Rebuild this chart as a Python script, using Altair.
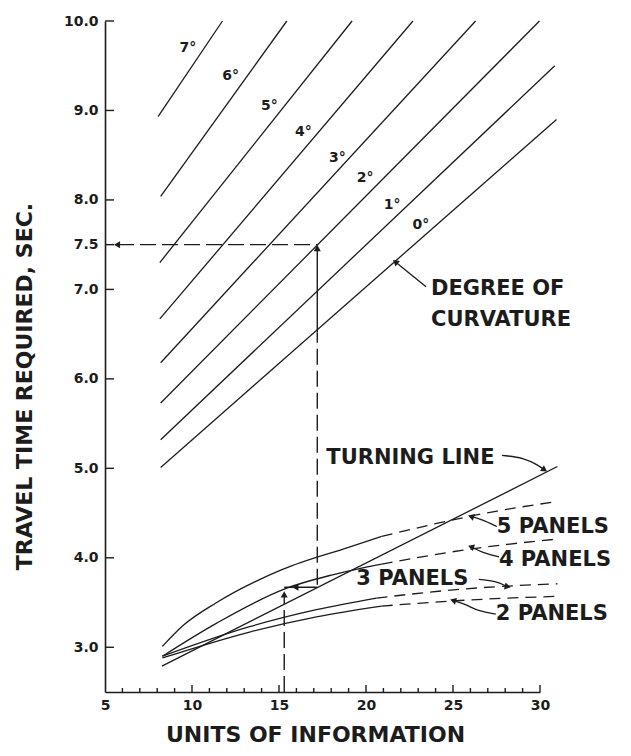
import altair as alt
import pandas as pd

# ---------------- data ----------------
# Degree-of-curvature lines (straight): start and end points
DEG_NAMES = ["0°", "1°", "2°", "3°", "4°", "5°", "6°", "7°"]
DEG_X0 = [8.2, 8.2, 8.2, 8.2, 8.15, 8.15, 8.2, 8.05]
DEG_Y0 = [5.01, 5.32, 5.73, 6.18, 6.67, 7.30, 8.04, 8.93]
DEG_X1 = [30.95, 30.85, 29.97, 26.3, 22.7, 19.2, 15.45, 11.75]
DEG_Y1 = [8.90, 9.50, 10.0, 10.0, 10.0, 10.0, 10.0, 10.0]
DEG_LABEL_X = [23.16, 21.5, 19.95, 18.35, 16.40, 14.45, 12.22, 9.76]
DEG_LABEL_Y = [7.72, 7.94, 8.24, 8.47, 8.76, 9.05, 9.38, 9.70]

# Panel curves: solid part and dashed (extrapolated) part
P5_SOLID_X = [8.3, 9.47, 11.42, 15.2, 19.04, 20.9]
P5_SOLID_Y = [3.01, 3.24, 3.50, 3.87, 4.12, 4.24]
P5_DASH_X = [20.9, 27.46, 31.0]
P5_DASH_Y = [4.24, 4.52, 4.63]

P4_SOLID_X = [8.3, 11.42, 15.3, 18.07, 20.9]
P4_SOLID_Y = [2.90, 3.27, 3.65, 3.81, 3.93]
P4_DASH_X = [20.9, 26.09, 31.0]
P4_DASH_Y = [3.93, 4.10, 4.21]

P3_SOLID_X = [8.3, 13.31, 17.15, 20.6]
P3_SOLID_Y = [2.90, 3.23, 3.42, 3.55]
P3_DASH_X = [20.6, 25.52, 31.0]
P3_DASH_Y = [3.55, 3.65, 3.71]

P2_SOLID_X = [8.3, 13.31, 17.15, 20.9]
P2_SOLID_Y = [2.88, 3.17, 3.34, 3.46]
P2_DASH_X = [20.9, 25.17, 31.0]
P2_DASH_Y = [3.46, 3.52, 3.57]

TURN_X = [8.27, 31.0]
TURN_Y = [2.79, 5.02]

# Worked example guide lines
GUIDE_H_X = [5.75, 17.2]
GUIDE_H_Y = [7.5, 7.5]
GUIDE_V1_X = [17.2, 17.2]
GUIDE_V1_Y = [3.70, 6.52]
GUIDE_V1S_X = [17.2, 17.2]
GUIDE_V1S_Y = [6.52, 7.45]
GUIDE_V2_X = [15.3, 15.3]
GUIDE_V2_Y = [2.5, 3.58]
CONN_X = [15.3, 17.2]
CONN_Y = [3.67, 3.67]

# Leader lines from annotations
LEAD_DEG_X = [23.45, 21.73]
LEAD_DEG_Y = [7.03, 7.30]
LEAD_TURN_X = [27.81, 29.07, 29.93, 30.21]
LEAD_TURN_Y = [5.145, 5.12, 5.03, 4.99]
LEAD_P5_X = [27.52, 26.66, 26.09]
LEAD_P5_Y = [4.35, 4.43, 4.46]
LEAD_P4_X = [27.64, 26.66, 26.09]
LEAD_P4_Y = [4.01, 4.06, 4.12]
LEAD_P3_X = [26.49, 27.46, 28.09]
LEAD_P3_Y = [3.76, 3.74, 3.68]
LEAD_P2_X = [27.46, 26.49, 25.74, 25.06]
LEAD_P2_Y = [3.37, 3.40, 3.48, 3.52]

# Arrowheads
ARROW_X = [5.75, 17.2, 15.3, 16.0, 21.73, 30.21, 26.09, 26.09, 28.09, 25.06]
ARROW_Y = [7.5, 7.45, 3.58, 3.67, 7.30, 4.99, 4.46, 4.12, 3.68, 3.52]
ARROW_ANGLE = [270, 0, 0, 270, 309, 124, 288, 290, 103, 287]

# Annotation texts
NOTE_TEXT = ["DEGREE OF", "CURVATURE", "TURNING LINE", "5 PANELS", "4 PANELS", "3 PANELS", "2 PANELS"]
NOTE_X = [23.74, 23.74, 17.72, 27.52, 27.64, 19.44, 27.46]
NOTE_Y = [7.00, 6.66, 5.12, 4.34, 3.98, 3.76, 3.37]

# Axis ticks
X_LABELS = [5, 10, 15, 20, 25, 30]
X_MAJOR_TICKS = [10, 15, 20, 25, 30]
X_MINOR_TICKS = [6, 7, 8, 9, 11, 12, 13, 14, 16, 17, 18, 19, 21, 22, 23, 24, 26, 27, 28, 29]
Y_LABELS = [3.0, 4.0, 5.0, 6.0, 7.0, 7.5, 8.0, 9.0, 10.0]

# ---------------- build tables ----------------
def seg_rows(name, xs, ys):
    return [{"id": name, "o": i, "x": x, "y": y} for i, (x, y) in enumerate(zip(xs, ys))]

deg_rows = []
for n, x0, y0, x1, y1 in zip(DEG_NAMES, DEG_X0, DEG_Y0, DEG_X1, DEG_Y1):
    deg_rows += seg_rows(n, [x0, x1], [y0, y1])
deg_df = pd.DataFrame(deg_rows)

solid_df = pd.DataFrame(
    seg_rows("p5", P5_SOLID_X, P5_SOLID_Y) + seg_rows("p4", P4_SOLID_X, P4_SOLID_Y)
    + seg_rows("p3", P3_SOLID_X, P3_SOLID_Y) + seg_rows("p2", P2_SOLID_X, P2_SOLID_Y)
    + seg_rows("turn", TURN_X, TURN_Y)
)
dash_df = pd.DataFrame(
    seg_rows("p5", P5_DASH_X, P5_DASH_Y) + seg_rows("p4", P4_DASH_X, P4_DASH_Y)
    + seg_rows("p3", P3_DASH_X, P3_DASH_Y) + seg_rows("p2", P2_DASH_X, P2_DASH_Y)
)
guide_dash_df = pd.DataFrame(
    seg_rows("h", GUIDE_H_X, GUIDE_H_Y) + seg_rows("v1", GUIDE_V1_X, GUIDE_V1_Y)
    + seg_rows("v2", GUIDE_V2_X, GUIDE_V2_Y)
)
guide_solid_df = pd.DataFrame(
    seg_rows("v1s", GUIDE_V1S_X, GUIDE_V1S_Y) + seg_rows("conn", CONN_X, CONN_Y)
)
lead_df = pd.DataFrame(
    seg_rows("deg", LEAD_DEG_X, LEAD_DEG_Y) + seg_rows("turn", LEAD_TURN_X, LEAD_TURN_Y)
    + seg_rows("p5", LEAD_P5_X, LEAD_P5_Y) + seg_rows("p4", LEAD_P4_X, LEAD_P4_Y)
    + seg_rows("p3", LEAD_P3_X, LEAD_P3_Y) + seg_rows("p2", LEAD_P2_X, LEAD_P2_Y)
)
arrow_df = pd.DataFrame({"x": ARROW_X, "y": ARROW_Y, "a": ARROW_ANGLE})
deglab_df = pd.DataFrame({"x": DEG_LABEL_X, "y": DEG_LABEL_Y, "t": DEG_NAMES})
note_df = pd.DataFrame({"x": NOTE_X, "y": NOTE_Y, "t": NOTE_TEXT})
xtick_df = pd.DataFrame({"x": X_MAJOR_TICKS + X_MINOR_TICKS,
                         "major": [1] * len(X_MAJOR_TICKS) + [0] * len(X_MINOR_TICKS)})
ytick_df = pd.DataFrame({"y": Y_LABELS})

# ---------------- encodings ----------------
INK = "#1c1c1c"
FONT = "DejaVu Sans"
W, H = 435, 671

x_scale = alt.Scale(domain=[5, 30], nice=False, zero=False)
y_scale = alt.Scale(domain=[2.5, 10], nice=False, zero=False)
x_axis = alt.Axis(
    values=X_LABELS, format="d", ticks=False, tickSize=0, grid=False,
    domainColor=INK, domainWidth=1.6, labelColor=INK, labelFont=FONT,
    labelFontSize=14, labelFontWeight="bold", labelPadding=6, labelFlush=False,
    labelOverlap=False,
    title="UNITS OF INFORMATION", titleFont=FONT, titleFontSize=22,
    titleFontWeight="bold", titleColor=INK, titleX=210, titleY=42,
    titleAlign="center", titleBaseline="middle",
)
y_axis = alt.Axis(
    values=Y_LABELS, format=".1f", ticks=False, tickSize=0, grid=False,
    domainColor=INK, domainWidth=1.6, labelColor=INK, labelFont=FONT,
    labelFontSize=14, labelFontWeight="bold", labelPadding=7, labelFlush=False,
    labelOverlap=False,
    title="TRAVEL TIME REQUIRED, SEC.", titleFont=FONT, titleFontSize=22,
    titleFontWeight="bold", titleColor=INK, titleX=-81, titleY=365, titleAngle=270,
    titleAlign="center", titleBaseline="middle",
)

def X(field="x"):
    return alt.X(f"{field}:Q", scale=x_scale, axis=x_axis)

def Y(field="y"):
    return alt.Y(f"{field}:Q", scale=y_scale, axis=y_axis)

deg_layer = alt.Chart(deg_df).mark_line(color=INK, strokeWidth=1.3).encode(
    x=X(), y=Y(), detail="id:N", order="o:Q")
solid_layer = alt.Chart(solid_df).mark_line(color=INK, strokeWidth=1.3, interpolate="monotone").encode(
    x=X(), y=Y(), detail="id:N", order="o:Q")
dash_layer = alt.Chart(dash_df).mark_line(color=INK, strokeWidth=1.3, interpolate="monotone",
                                          strokeDash=[11, 7]).encode(
    x=X(), y=Y(), detail="id:N", order="o:Q")
guide_dash_layer = alt.Chart(guide_dash_df).mark_line(color=INK, strokeWidth=1.4,
                                                      strokeDash=[16, 6]).encode(
    x=X(), y=Y(), detail="id:N", order="o:Q")
guide_solid_layer = alt.Chart(guide_solid_df).mark_line(color=INK, strokeWidth=1.4).encode(
    x=X(), y=Y(), detail="id:N", order="o:Q")
lead_layer = alt.Chart(lead_df).mark_line(color=INK, strokeWidth=1.3, interpolate="basis").encode(
    x=X(), y=Y(), detail="id:N", order="o:Q")
arrow_layer = alt.Chart(arrow_df).mark_point(shape="triangle", filled=True, color=INK,
                                             size=50, opacity=1).encode(
    x=X(), y=Y(), angle=alt.Angle("a:Q", scale=None))
deglab_layer = alt.Chart(deglab_df).mark_text(font=FONT, fontSize=14, fontWeight="bold",
                                              color=INK, align="center", baseline="middle").encode(
    x=X(), y=Y(), text="t:N")
note_layer = alt.Chart(note_df).mark_text(font=FONT, fontSize=21, fontWeight="bold",
                                          color=INK, align="left", baseline="middle").encode(
    x=X(), y=Y(), text="t:N")
xtick_major = alt.Chart(xtick_df[xtick_df["major"] == 1]).mark_rule(color=INK, strokeWidth=1.4).encode(
    x=X(), y=alt.value(H), y2=alt.value(H - 7))
xtick_minor = alt.Chart(xtick_df[xtick_df["major"] == 0]).mark_rule(color=INK, strokeWidth=1.4).encode(
    x=X(), y=alt.value(H), y2=alt.value(H - 4))
ytick_layer = alt.Chart(ytick_df).mark_rule(color=INK, strokeWidth=1.4).encode(
    y=Y(), x=alt.value(0), x2=alt.value(9))

chart = alt.layer(
    deg_layer, solid_layer, dash_layer, guide_dash_layer, guide_solid_layer,
    lead_layer, arrow_layer, deglab_layer, note_layer,
    xtick_major, xtick_minor, ytick_layer,
).properties(
    width=W, height=H,
    autosize=alt.AutoSizeParams(type="none"),
    padding={"left": 97, "top": 13, "right": 83, "bottom": 56},
    background="white",
).configure_view(stroke=None)

chart.save("out.html", embed_options={"renderer": "svg", "actions": False})
